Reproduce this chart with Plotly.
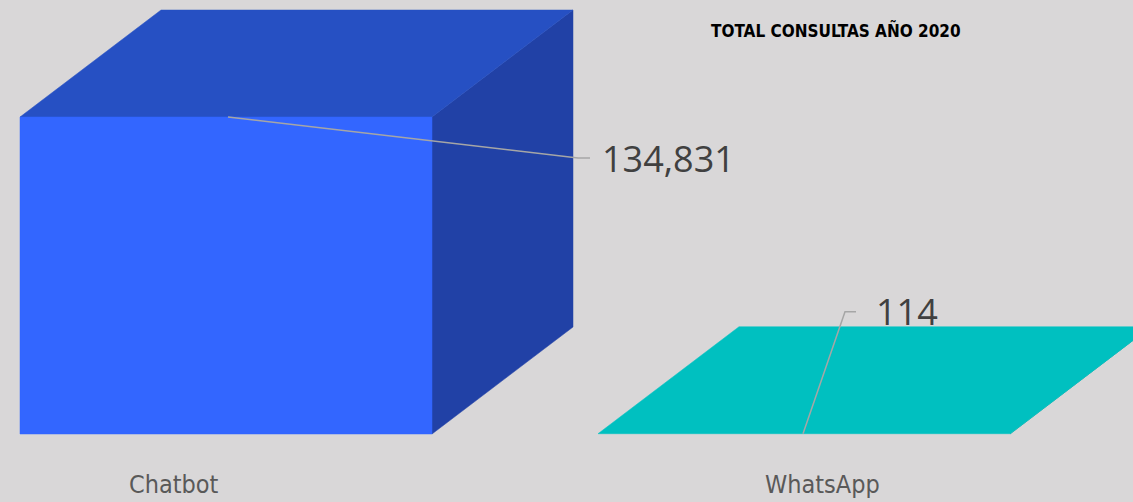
import plotly.graph_objects as go

# ---- data ----
categories = ["Chatbot", "WhatsApp"]
values = [134831, 114]
title_text = "TOTAL CONSULTAS AÑO 2020"

# ---- style / geometry (pixel-like x units, value y units) ----
W, H = 1133, 502
bar_left0 = 20
bar_step = 578
bar_width = 412
depth_dx = 141
px_per_unit = 317 / 134831.0
depth_dy = 107 / px_per_unit
base_px = 434  # pixel row of y=0
y_top = base_px / px_per_unit
y_bot = -(H - base_px) / px_per_unit

front_colors = ["#3366FF", "#00C0C0"]
top_colors = ["#2650C3", "#00C0C0"]
side_colors = ["#2141A6", "#00A6A6"]
label_offsets = [154, 224]
narrow = "DejaVu Sans Condensed, Roboto, sans-serif"

fig = go.Figure()

def face(xs, ys, color):
    fig.add_trace(go.Scatter(x=xs + [xs[0]], y=ys + [ys[0]], fill="toself",
                             fillcolor=color, mode="lines",
                             line=dict(color=color, width=0.5),
                             hoverinfo="skip", showlegend=False))

for i, (cat, v) in enumerate(zip(categories, values)):
    x0 = bar_left0 + i * bar_step
    x1 = x0 + bar_width
    face([x1, x1 + depth_dx, x1 + depth_dx, x1],
         [0, depth_dy, v + depth_dy, v], side_colors[i])
    face([x0, x0 + depth_dx, x1 + depth_dx, x1],
         [v, v + depth_dy, v + depth_dy, v], top_colors[i])
    if v * px_per_unit > 1:
        face([x0, x1, x1, x0], [0, 0, v, v], front_colors[i])

# ---- data labels with leader lines ----
v = values[0]
cx = bar_left0 + bar_width / 2 + 2
ly = v - 41 / px_per_unit
fig.add_trace(go.Scatter(x=[cx, 578, 590], y=[v, ly, ly], mode="lines",
                         line=dict(color="#A6A6A6", width=1.5),
                         hoverinfo="skip", showlegend=False))
fig.add_annotation(x=600, y=ly, text=f"{values[0]:,}", showarrow=False,
                   xanchor="left", yanchor="middle", xref="x", yref="y",
                   font=dict(family="Open Sans", size=36, color="#404040"))
v = values[1]
cx = bar_left0 + bar_step + bar_width / 2 - 1
ly = v + 122 / px_per_unit
fig.add_trace(go.Scatter(x=[cx, 845, 856], y=[v, ly, ly], mode="lines",
                         line=dict(color="#A6A6A6", width=1.5),
                         hoverinfo="skip", showlegend=False))
fig.add_annotation(x=874, y=ly, text=f"{values[1]:,}", showarrow=False,
                   xanchor="left", yanchor="middle", xref="x", yref="y",
                   font=dict(family="Open Sans", size=36, color="#404040"))

# ---- category labels ----
for i, cat in enumerate(categories):
    fig.add_annotation(x=bar_left0 + i * bar_step + label_offsets[i],
                       y=-50 / px_per_unit, text=cat, showarrow=False,
                       xanchor="center", yanchor="middle", xref="x", yref="y",
                       font=dict(family=narrow, size=25, color="#595959"))

# ---- title ----
fig.add_annotation(x=836, y=(base_px - 30) / px_per_unit, text=f"<b>{title_text}</b>",
                   showarrow=False, xanchor="center", yanchor="middle",
                   xref="x", yref="y",
                   font=dict(family=narrow, size=17, color="#000000"))

fig.update_layout(
    width=W, height=H,
    margin=dict(l=0, r=0, t=0, b=0),
    paper_bgcolor="#D9D7D8", plot_bgcolor="#D9D7D8",
    xaxis=dict(range=[0, W], visible=False, fixedrange=True),
    yaxis=dict(range=[y_bot, y_top], visible=False, fixedrange=True),
)

fig.write_html("out.html")
